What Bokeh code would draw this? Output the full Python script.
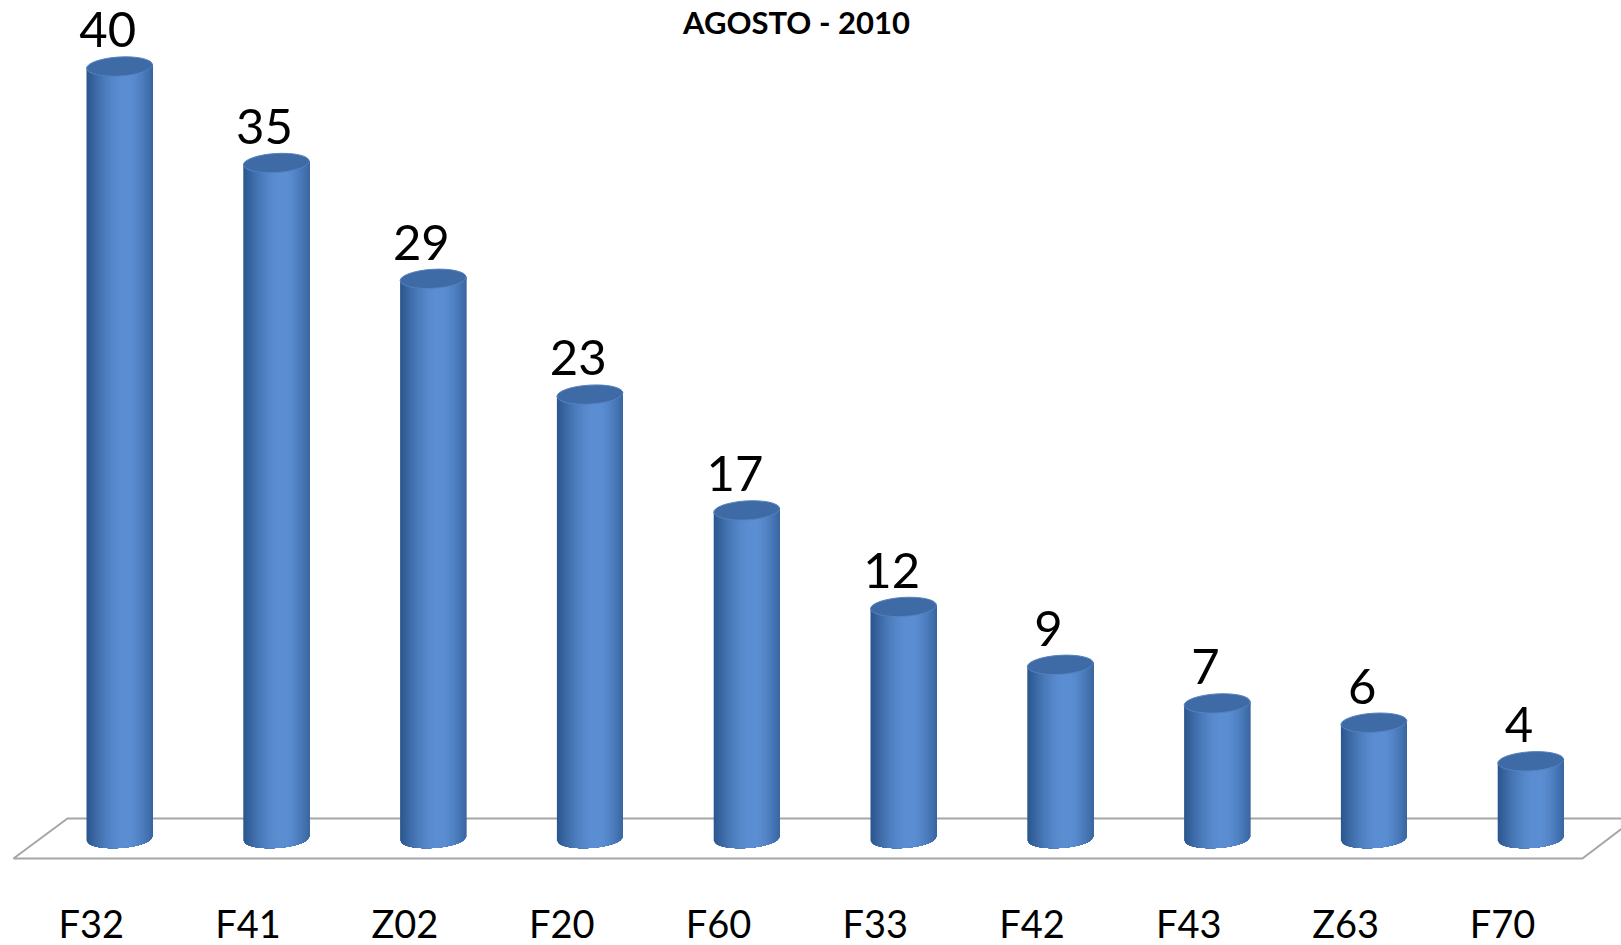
import numpy as np
from bokeh.plotting import figure
from bokeh.models import Range1d, Label
from bokeh.embed import file_html
from bokeh.resources import INLINE
from bokeh.core.properties import value

categories = ["F32", "F41", "Z02", "F20", "F60", "F33", "F42", "F43", "Z63", "F70"]
counts = [40, 35, 29, 23, 17, 12, 9, 7, 6, 4]
title_text = "AGOSTO - 2010"

FONT = "Lato"
PX_X = 156.8   # pixels per category step
PX_Y = 19.3    # pixels per unit
X0, Y0 = 119.0, 838.0   # pixel position of first category / zero line
WIDTH, HEIGHT = 1621, 945

p = figure(width=WIDTH, height=HEIGHT,
           x_range=Range1d(-X0 / PX_X, (WIDTH - X0) / PX_X),
           y_range=Range1d(-(HEIGHT - Y0) / PX_Y, Y0 / PX_Y),
           output_backend="svg", toolbar_location=None, min_border=0)
p.axis.visible = False
p.grid.visible = False
p.outline_line_color = None
p.background_fill_color = "white"
p.border_fill_color = "white"

# floor (3-D base plane)
p.patch(x=[-0.676, 9.33, 9.668, -0.332], y=[-1.04, -1.04, 1.04, 1.04],
        fill_color="white", line_color="#A6A6A6", line_width=2)

idx = np.arange(len(categories))
vals = np.array(counts, dtype=float)

# cylinder bodies: nested shading levels (darkest/widest first)
W = 66 / PX_X
b = 9.5 / PX_Y
tilt = 2.0 / PX_Y
K = 28
HL = 0.6        # highlight position across width
LR = 0.3        # lightness at right edge
c0 = np.array([0x2C, 0x57, 0x8E])
c1 = np.array([0x5C, 0x8F, 0xD4])

xs_all, ys_all, cols = [], [], []
for k in range(K):
    lam = k / K
    L = HL * np.arcsin(lam) * 2 / np.pi
    if lam <= LR:
        R = 1.0
    else:
        R = HL + (1 - HL) * np.arccos((lam - LR) / (1 - LR)) * 2 / np.pi
    c = c0 + (c1 - c0) * lam
    col = "#%02x%02x%02x" % tuple(int(round(v)) for v in c)
    tt = np.linspace(L, R, 24)
    uu = 2 * tt - 1
    bottom = -b * np.sqrt(np.clip(1 - uu * uu, 0, None)) + tilt * uu
    for i, v in zip(idx, vals):
        px = list(i + (tt - 0.5) * W)
        py = list(bottom)
        px += [i + (R - 0.5) * W, i + (L - 0.5) * W]
        py += [v + tilt * (2 * R - 1), v + tilt * (2 * L - 1)]
        xs_all.append(px)
        ys_all.append(py)
        cols.append(col)

p.patches(xs=xs_all, ys=ys_all, fill_color=cols, line_color=None)

# top caps
p.ellipse(x=idx, y=vals, width=66, height=19, width_units="screen", height_units="screen",
          angle=0.06, fill_color="#3E6BA6", line_color="#5582BF", line_width=1)

# value labels
p.text(x=idx - 0.075, y=vals + 1.9, text=[str(c) for c in counts],
       text_font=value(FONT), text_font_size="49px", text_color="black",
       text_align="center", text_baseline="middle", text_line_height=1.0)

# category labels
p.text(x=idx - 0.18, y=[-(922 - Y0) / PX_Y] * len(categories), text=categories,
       text_font=value(FONT), text_font_size="38px", text_color="black",
       text_align="center", text_baseline="middle", text_line_height=1.0)

p.add_layout(Label(x=796, y=HEIGHT - 21, x_units="screen", y_units="screen",
                   text=title_text, text_font=FONT, text_font_size="31px",
                   text_font_style="bold", text_align="center", text_baseline="middle",
                   text_color="black"))

open("out.html", "w").write(file_html(p, INLINE))
